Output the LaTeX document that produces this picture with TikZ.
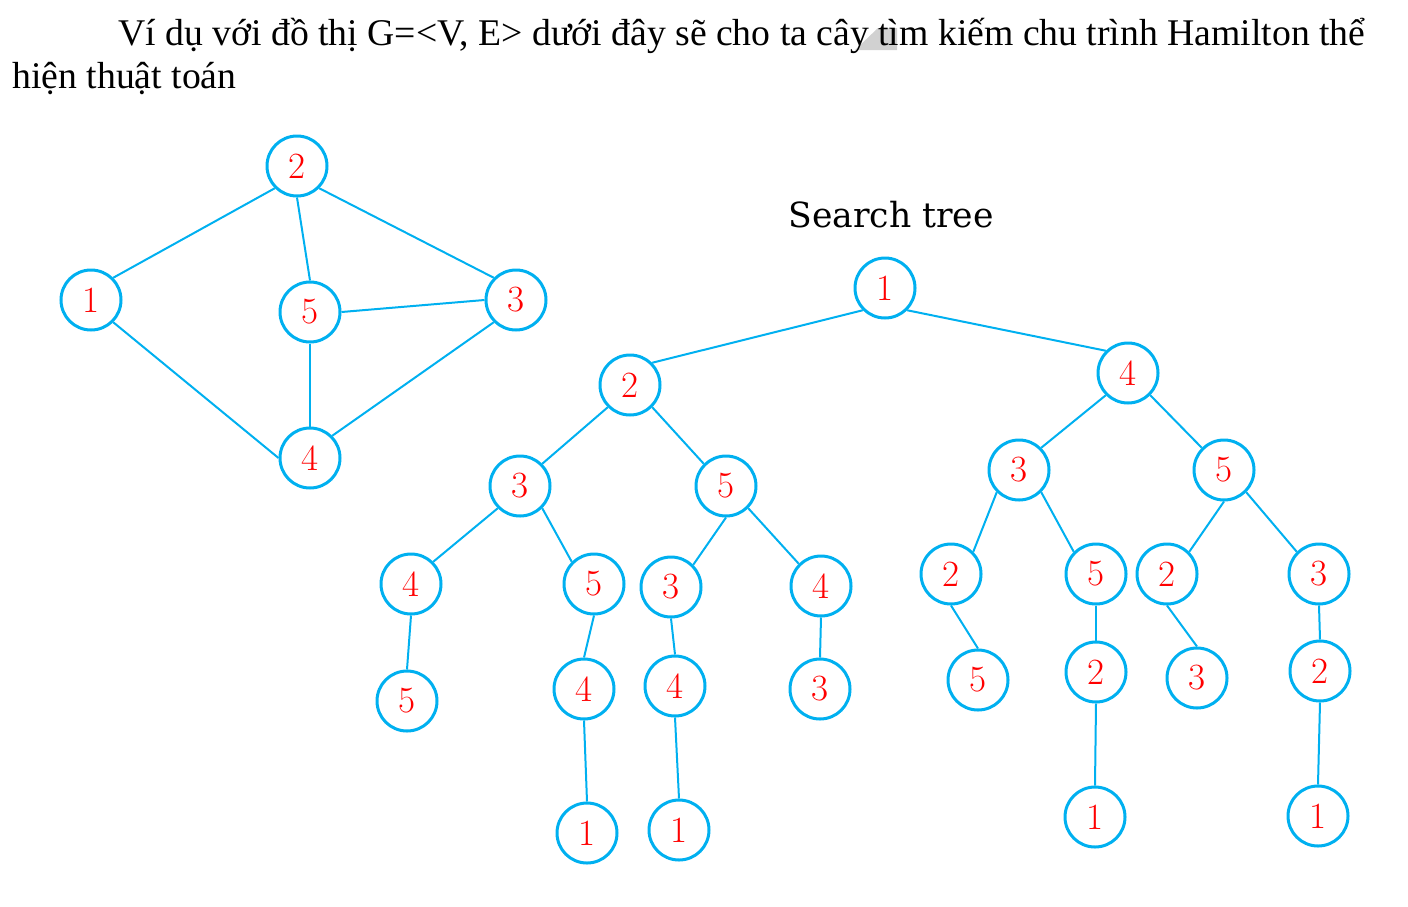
\documentclass[tikz,border=0pt]{standalone}
\usepackage{fontspec}
\newfontfamily\headfont{Liberation Serif}
\newfontfamily\titlefont{DejaVu Serif}
\definecolor{nodeC}{RGB}{0,176,240}
\tikzset{vtx/.style={circle,draw=nodeC,line width=1.5pt,minimum size=30pt,inner sep=0pt,text=red,font=\fontsize{18.5}{18.5}\selectfont},
  lnk/.style={draw=nodeC,line width=1pt}}

\begin{document}
\begin{tikzpicture}[x=0.5pt,y=-0.5pt]
\useasboundingbox (0,0) rectangle (1408,906);
\fill[black!18] (855,50)--(878,28)--(897,28)--(897,50)--cycle;
\node[anchor=base west,inner sep=0pt,font=\headfont\fontsize{18.85}{18.85}\selectfont] (line1) at (118,45) {Ví dụ với đồ thị G=<V, E> dưới đây sẽ cho ta cây tìm kiếm chu trình Hamilton thể};
\node[anchor=base west,inner sep=0pt,font=\headfont\fontsize{18.85}{18.85}\selectfont] (line2) at (12,88) {hiện thuật toán};
\node[anchor=base,inner sep=0pt,font=\titlefont\fontsize{17.3}{17.3}\selectfont] (title) at (891,227) {Search tree};
% the graph G
\node[vtx] (g2) at (297,166) {2}; \node[vtx] (g1) at (91,300) {1}; \node[vtx] (g5) at (310,312) {5};
\node[vtx] (g3) at (516,300) {3}; \node[vtx] (g4) at (310,458) {4};
\foreach \a/\b in {g2.south west/g1.north east,g2.south/g5.north,g2.south east/g3.north west,g5.east/g3.west,
  g5.south/g4.north,g1.south east/g4.west,g3.south west/g4.north east}
  \draw[lnk] (\a)--(\b);
% search tree
\node[vtx] (r1) at (885,288) {1};
\node[vtx] (a2) at (630,385) {2}; \node[vtx] (a4) at (1128,373) {4};
\node[vtx] (b3) at (520,486) {3}; \node[vtx] (b5) at (726,486) {5};
\node[vtx] (c4) at (411,584) {4}; \node[vtx] (c5) at (594,584) {5};
\node[vtx] (d5) at (407,701) {5}; \node[vtx] (d4) at (584,689) {4}; \node[vtx] (e1) at (587,833) {1};
\node[vtx] (c3) at (671,587) {3}; \node[vtx] (c4b) at (821,586) {4};
\node[vtx] (d4b) at (675,686) {4}; \node[vtx] (e1b) at (679,830) {1}; \node[vtx] (d3) at (820,689) {3};
\node[vtx] (b3r) at (1019,470) {3}; \node[vtx] (b5r) at (1224,470) {5};
\node[vtx] (c2) at (951,574) {2}; \node[vtx] (c5r) at (1096,574) {5};
\node[vtx] (d5r) at (978,680) {5}; \node[vtx] (d2) at (1096,672) {2}; \node[vtx] (e1c) at (1095,817) {1};
\node[vtx] (c2r) at (1167,574) {2}; \node[vtx] (c3r) at (1319,574) {3};
\node[vtx] (d3r) at (1197,678) {3}; \node[vtx] (d2r) at (1320,671) {2}; \node[vtx] (e1d) at (1318,816) {1};
\foreach \a/\b in {r1.south west/a2.north east,r1.south east/a4.north west,
  a2.south west/b3.north east,a2.south east/b5.north west,
  b3.south west/c4.north east,b3.south east/c5.north west,c4.south/d5.north,c5.south/d4.north,d4.south/e1.north,
  b5.south/c3.north east,b5.south east/c4b.north west,c3.south/d4b.north,d4b.south/e1b.north,c4b.south/d3.north,
  a4.south west/b3r.north east,a4.south east/b5r.north west,
  b3r.south west/c2.north east,b3r.south east/c5r.north west,c2.south/d5r.north,c5r.south/d2.north,d2.south/e1c.north,
  b5r.south/c2r.north east,b5r.south east/c3r.north west,c2r.south/d3r.north,c3r.south/d2r.north,d2r.south/e1d.north}
  \draw[lnk] (\a)--(\b);
\end{tikzpicture}
\end{document}
